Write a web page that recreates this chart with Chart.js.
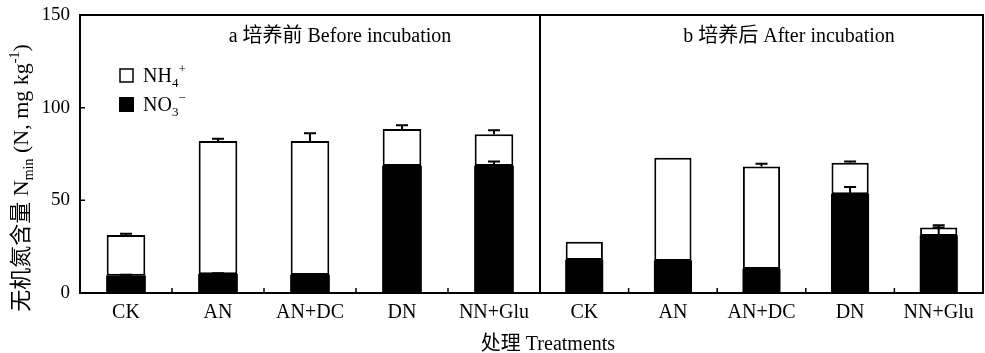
<!DOCTYPE html>
<html>
<head>
<meta charset="utf-8">
<script src="https://cdn.jsdelivr.net/npm/chart.js@4/dist/chart.umd.min.js"></script>
<style>
  body { margin: 0; background: #fff; }
  #wrap { position: relative; width: 985px; height: 353px; }
  .box { position: absolute; top: 0; height: 353px; }
  #xtitle {
    position: absolute; left: 398px; width: 300px; top: 327px; line-height: 24px;
    text-align: center; font: 20px 'Liberation Serif', 'Noto Sans CJK SC', serif; color: #000;
  }
</style>
</head>
<body>
<div id="wrap">
  <div class="box" style="left:0;width:540px"><canvas id="before"></canvas></div>
  <div class="box" style="left:540px;width:445px"><canvas id="after"></canvas></div>
  <div id="xtitle">处理 Treatments</div>
</div>
<script>
/************** data ****************/
const categories = ["CK", "AN", "AN+DC", "DN", "NN+Glu"];

const no3Before = [9.3, 10.1, 9.7, 68.5, 68.5];
const nh4Before = [22.0, 71.9, 72.3, 20.0, 17.1];
const no3ErrBefore = [0.5, 0.5, 0, 0.4, 2.4];
const totalErrBefore = [0.7, 1.2, 4.2, 2.0, 2.2];

const no3After = [17.8, 17.3, 12.9, 53.3, 30.8];
const nh4After = [9.9, 55.7, 55.3, 17.0, 4.6];
const no3ErrAfter = [0, 0.5, 0.5, 3.9, 4.6];
const totalErrAfter = [0, 0, 1.5, 0.7, 1.1];

const yTicks = [0, 50, 100, 150];

const FONT = "'Liberation Serif', 'Noto Sans CJK SC', serif";
Chart.defaults.font.family = FONT;
Chart.defaults.color = "#000";

/************** plugins ****************/
const frame = {
    id: "frame",
    afterDatasetsDraw(chart) {
        const { ctx, chartArea: a, scales } = chart;
        ctx.save();
        ctx.strokeStyle = "#000";
        ctx.lineWidth = 2;

        // error bars
        chart.data.datasets.forEach((ds, di) => {
            const meta = chart.getDatasetMeta(di);
            meta.data.forEach((bar, i) => {
                const err = ds.errs[i];
                if (!err) return;
                let top = 0;
                for (let k = 0; k <= di; k++) top += chart.data.datasets[k].data[i];
                const y1 = scales.y.getPixelForValue(top + err);
                ctx.beginPath();
                ctx.moveTo(bar.x, bar.y);
                ctx.lineTo(bar.x, y1);
                ctx.moveTo(bar.x - 6, y1);
                ctx.lineTo(bar.x + 6, y1);
                ctx.stroke();
            });
        });

        // box
        ctx.strokeRect(a.left, a.top, a.right - a.left, a.bottom - a.top);

        // inward ticks
        ctx.lineWidth = 1.5;
        ctx.beginPath();
        for (let i = 0; i < categories.length - 1; i++) {
            const x = (scales.x.getPixelForValue(i) + scales.x.getPixelForValue(i + 1)) / 2;
            ctx.moveTo(x, a.bottom);
            ctx.lineTo(x, a.bottom - 5);
        }
        if (chart.options.scales.y.display) {
            yTicks.slice(1, -1).forEach(v => {
                const y = scales.y.getPixelForValue(v);
                ctx.moveTo(a.left, y);
                ctx.lineTo(a.left + 5, y);
            });
        }
        ctx.stroke();

        // panel title
        const t = chart.options.plugins.panel;
        ctx.fillStyle = "#000";
        ctx.font = "20px " + FONT;
        ctx.textAlign = "center";
        ctx.textBaseline = "middle";
        ctx.fillText(t.text, a.left + t.dx, 37);
        ctx.restore();
    }
};

function drawPieces(ctx, x, y, pieces) {
    pieces.forEach(p => {
        ctx.font = p.size + "px " + FONT;
        ctx.fillText(p.t, x, y + (p.dy || 0));
        x += ctx.measureText(p.t).width;
    });
    return x;
}

function piecesWidth(ctx, pieces) {
    let w = 0;
    pieces.forEach(p => {
        ctx.font = p.size + "px " + FONT;
        w += ctx.measureText(p.t).width;
    });
    return w;
}

const extras = {
    id: "extras",
    afterDraw(chart) {
        const { ctx, chartArea: a } = chart;
        ctx.save();
        ctx.fillStyle = "#000";
        ctx.strokeStyle = "#000";
        ctx.textAlign = "left";
        ctx.textBaseline = "alphabetic";

        // legend
        ctx.lineWidth = 1.5;
        ctx.fillStyle = "#fff";
        ctx.fillRect(a.left + 40, 69, 13, 13);
        ctx.strokeRect(a.left + 40, 69, 13, 13);
        ctx.fillStyle = "#000";
        ctx.fillRect(a.left + 39, 97, 15, 15);
        drawPieces(ctx, a.left + 63, 82, [
            { t: "NH", size: 20 }, { t: "4", size: 13, dy: 5 }, { t: "+", size: 13, dy: -9 }
        ]);
        drawPieces(ctx, a.left + 63, 111, [
            { t: "NO", size: 20 }, { t: "3", size: 13, dy: 5 }, { t: "\u2212", size: 13, dy: -9 }
        ]);

        // y axis title
        const pieces = [
            { t: "无机氮含量 N", size: 22 }, { t: "min", size: 14, dy: 5 },
            { t: " (N, mg kg", size: 22 }, { t: "-1", size: 14, dy: -9 }, { t: ")", size: 22 }
        ];
        ctx.translate(28, 178);
        ctx.rotate(-Math.PI / 2);
        drawPieces(ctx, -piecesWidth(ctx, pieces) / 2, 0, pieces);
        ctx.restore();
    }
};

/************** charts ****************/
function makeChart(id, no3, nh4, no3Err, totalErr, showY, title, dx, padRight) {
    return new Chart(document.getElementById(id), {
        type: "bar",
        data: {
            labels: categories,
            datasets: [{
                label: "NO3-",
                data: no3,
                errs: no3Err,
                backgroundColor: "#000",
                borderColor: "#000",
                borderWidth: 2,
                borderSkipped: false,
                inflateAmount: 0.6
            }, {
                label: "NH4+",
                data: nh4,
                errs: totalErr,
                backgroundColor: "#fff",
                borderColor: "#000",
                borderWidth: 2,
                borderSkipped: false,
                inflateAmount: 0
            }]
        },
        options: {
            responsive: true,
            maintainAspectRatio: false,
            animation: false,
            layout: { padding: { top: 15, right: padRight, left: 0, bottom: 0 } },
            datasets: { bar: { categoryPercentage: 1, barPercentage: 0.42 } },
            plugins: {
                legend: { display: false },
                tooltip: { enabled: false },
                panel: { text: title, dx: dx }
            },
            scales: {
                x: {
                    stacked: true,
                    grid: { display: false, drawTicks: false },
                    border: { display: false },
                    ticks: { padding: 8, font: { size: 20 } },
                    afterFit: s => { s.height = 60; }
                },
                y: {
                    display: showY,
                    stacked: true,
                    min: 0,
                    max: 150,
                    grid: { display: false, drawTicks: false },
                    border: { display: false },
                    ticks: { stepSize: 50, padding: 10, font: { size: 19 } },
                    afterFit: s => {
                        s.width = showY ? 80 : 0;
                        s.paddingTop = 0;
                        s.paddingBottom = 0;
                    }
                }
            }
        },
        plugins: showY ? [frame, extras] : [frame]
    });
}

makeChart("before", no3Before, nh4Before, no3ErrBefore, totalErrBefore, true,
    "a 培养前 Before incubation", 260, 0);
makeChart("after", no3After, nh4After, no3ErrAfter, totalErrAfter, false,
    "b 培养后 After incubation", 249, 2);
</script>
</body>
</html>
